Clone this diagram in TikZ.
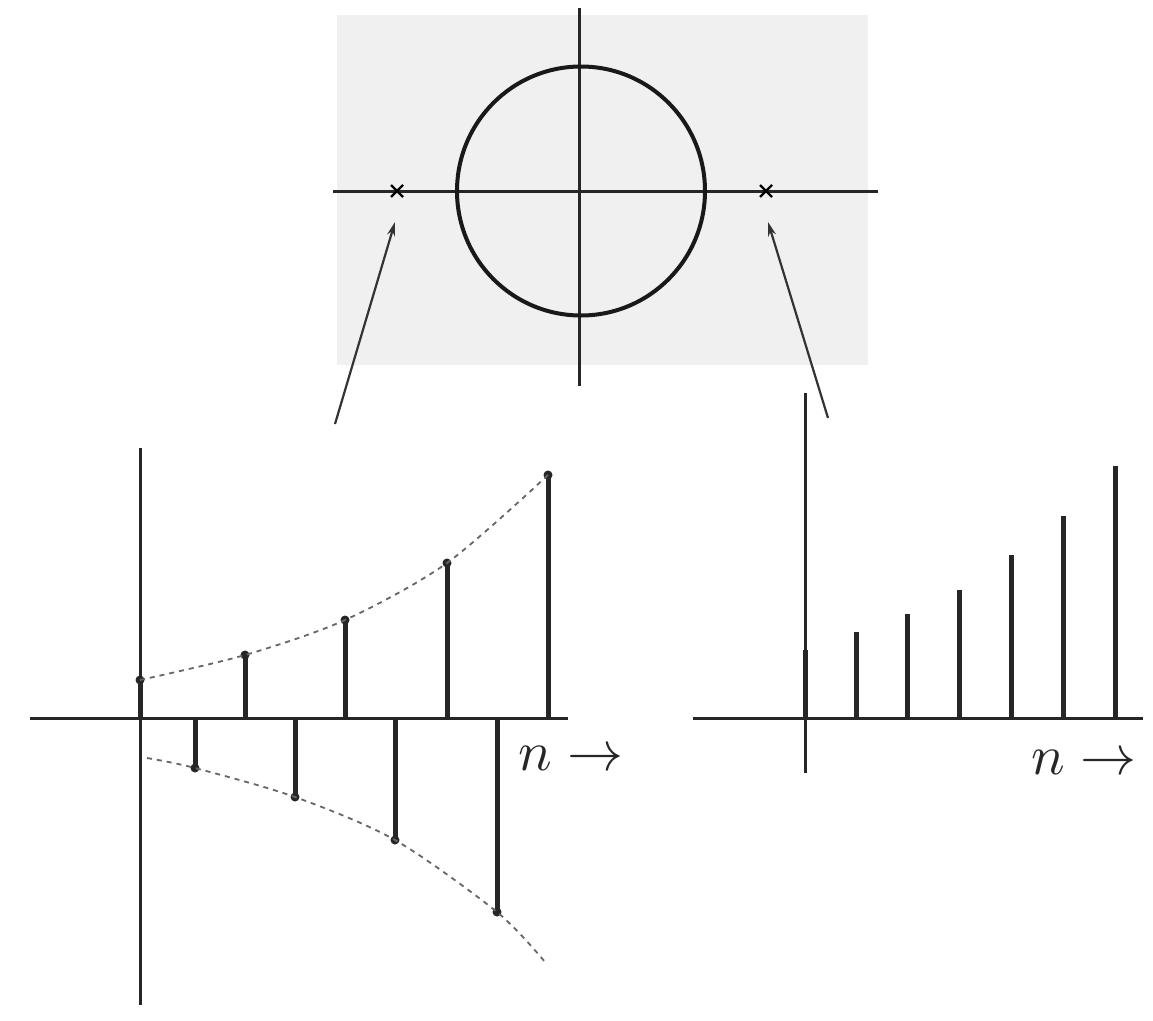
\documentclass[tikz,border=0pt]{standalone}
\usetikzlibrary{arrows.meta}
\begin{document}
\begin{tikzpicture}[x=1pt,y=-1pt,
  axis/.style={line width=3pt,black!85},
  stem/.style={line width=5pt,black!85},
  env/.style={line width=1.8pt,dash pattern=on 5pt off 5pt,black!60},
  pointer/.style={line width=2.2pt,black!80,-{Stealth[length=14pt,width=8pt]}},
  lbl/.style={scale=5.6,inner sep=0pt,black!85}]
\useasboundingbox (0,0) rectangle (1153,1020);
\fill[white] (0,0) rectangle (1153,1020);
% z-plane
\fill[black!6] (337,15) rectangle (868,365);
\draw[axis] (579,8) -- (579,386);
\draw[axis] (333,191) -- (878,191);
\draw[line width=4pt,black!90] (581,191) ellipse (124 and 124.5);
\foreach \px/\nm in {397/pl,766/pr}{
  \coordinate (\nm) at (\px,191);
  \draw[line width=2.2pt] ([shift={(-6,-6)}]\nm) -- ([shift={(6,6)}]\nm);
  \draw[line width=2.2pt] ([shift={(-6,6)}]\nm) -- ([shift={(6,-6)}]\nm);
}
\coordinate (al) at (335,424);
\coordinate (alt) at (395,222);
\coordinate (ar) at (828,418);
\coordinate (art) at (768,222);
\draw[pointer] (al) -- (alt);
\draw[pointer] (ar) -- (art);
% left plot: alternating growing sequence
\draw[axis] (140,448) -- (140,1005);
\draw[axis] (30,718) -- (568,718);
\foreach \sx/\sy in {140/680,195/768,245/655,295/797,345/620,395/840,447/563,497/912,548/475}{
  \draw[stem] (\sx,718) -- (\sx,\sy);
  \fill[black!85] (\sx,\sy) circle (4.5pt);
}
\draw[env] plot[smooth] coordinates {(140,680) (245,655) (345,620) (447,563) (548,475)};
\draw[env] plot[smooth] coordinates {(147,758) (195,768) (295,797) (395,840) (497,912) (545,962)};
\node[lbl,anchor=west] (nl) at (517,758) {$n\rightarrow$};
% right plot: growing sequence
\draw[axis] (805,393) -- (805,773);
\draw[axis] (693,718) -- (1143,718);
\foreach \sx/\sy in {805/650,856/632,907/614,959/590,1011/555,1063/516,1115/466}{
  \draw[stem] (\sx,718) -- (\sx,\sy);
}
\node[lbl,anchor=west] (nr) at (1030,762) {$n\rightarrow$};
\end{tikzpicture}
\end{document}
